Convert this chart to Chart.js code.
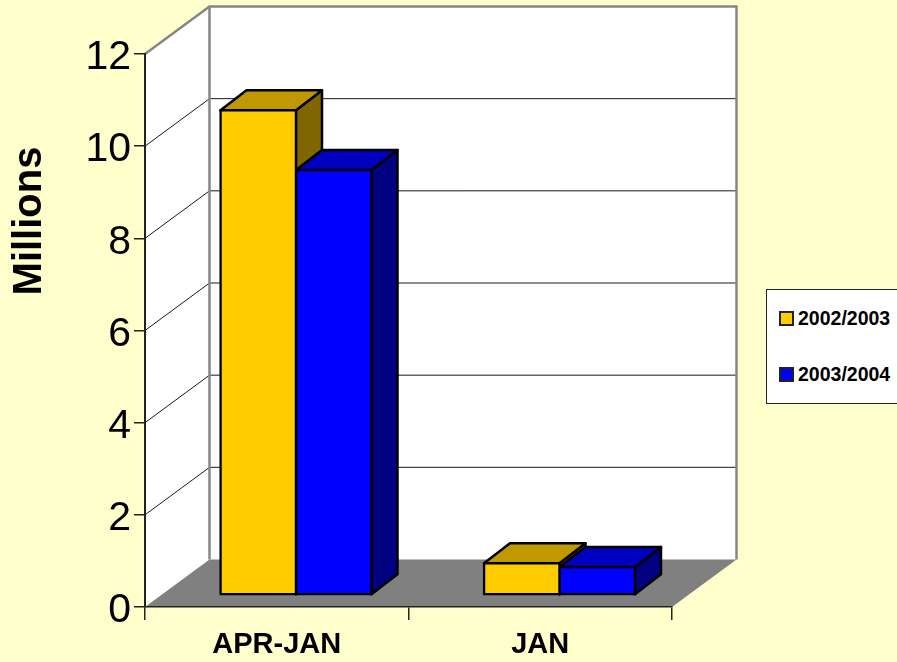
<!DOCTYPE html>
<html>
<head>
<meta charset="utf-8">
<title>Millions</title>
<script src="https://cdn.jsdelivr.net/npm/chart.js@4"></script>
<style>
  html, body { margin: 0; padding: 0; background: #ffffcc; overflow: hidden; }
  #wrap { position: relative; width: 897px; height: 662px; }
  #legend {
    position: absolute; left: 766px; top: 289px; width: 140px; height: 113px;
    background: #fff; border: 1px solid #222; box-sizing: content-box;
    font: bold 19.5px "Liberation Sans", Arial, sans-serif; color: #000;
  }
  #legend .row { position: absolute; left: 12px; display: flex; align-items: center; line-height: 20px; }
  #legend .swatch { width: 11px; height: 11px; border: 2px solid #222; margin-right: 4px; }
</style>
</head>
<body>
<div id="wrap">
  <canvas id="chart" width="897" height="662"></canvas>
  <div id="legend"></div>
</div>
<script>
const categories = ['APR-JAN', 'JAN'];
const seriesNames = ['2002/2003', '2003/2004'];
const values2002 = [10.52, 0.69];
const values2003 = [9.22, 0.61];
const yTicks = [0, 2, 4, 6, 8, 10, 12];

const COLORS = {
  page: '#ffffcc',
  wall: '#ffffff',
  edge: '#868686',
  floor: '#808080',
  axis: '#222222',
  grid: '#1a1a1a',
  bar: ['#ffcc00', '#0000ff'],
  top: ['#c09900', '#0000c0'],
  side: ['#806600', '#000080'],
};

// depth of the walls, depth of a bar, and where the bars sit on the floor
const WALL = { dx: 64.5, dy: -47.5 };
const BOX = { dx: 26, dy: -20 };
const BAR_SHIFT = { x: 19.25, y: -12 };
const BAR_LINE = 2.5;

function poly(ctx, pts, fill, stroke, width) {
  ctx.beginPath();
  pts.forEach((p, i) => (i ? ctx.lineTo(p[0], p[1]) : ctx.moveTo(p[0], p[1])));
  ctx.closePath();
  if (fill) { ctx.fillStyle = fill; ctx.fill(); }
  if (stroke) {
    ctx.strokeStyle = stroke;
    ctx.lineWidth = width;
    ctx.lineJoin = 'round';
    ctx.stroke();
  }
}

const box3d = {
  id: 'box3d',
  // walls and floor go under the axes
  beforeDraw(chart) {
    const { ctx, chartArea: a, scales: { y } } = chart;
    const backL = a.left + WALL.dx;
    const backR = a.right + WALL.dx;
    ctx.save();
    poly(ctx, [[a.left, a.top], [backL, a.top + WALL.dy], [backL, a.bottom + WALL.dy], [a.left, a.bottom]], COLORS.wall);
    poly(ctx, [[backL, a.top + WALL.dy], [backR, a.top + WALL.dy], [backR, a.bottom + WALL.dy], [backL, a.bottom + WALL.dy]], COLORS.wall);
    poly(ctx, [[a.left, a.bottom], [backL, a.bottom + WALL.dy], [backR, a.bottom + WALL.dy], [a.right, a.bottom]], COLORS.floor);

    yTicks.slice(1, -1).forEach(v => {
      const py = y.getPixelForValue(v);
      ctx.beginPath();
      ctx.moveTo(a.left, py);
      ctx.lineTo(backL, py + WALL.dy);
      ctx.lineTo(backR, py + WALL.dy);
      ctx.strokeStyle = COLORS.grid;
      ctx.lineWidth = 1;
      ctx.stroke();
    });

    ctx.beginPath();
    ctx.moveTo(a.left, a.top);
    ctx.lineTo(backL, a.top + WALL.dy);
    ctx.lineTo(backR, a.top + WALL.dy);
    ctx.lineTo(backR, a.bottom + WALL.dy);
    ctx.moveTo(backL, a.top + WALL.dy);
    ctx.lineTo(backL, a.bottom + WALL.dy);
    ctx.strokeStyle = COLORS.edge;
    ctx.lineWidth = 2.5;
    ctx.stroke();
    ctx.restore();
  },
  // sides and tops first, the library then paints the front faces on them
  beforeDatasetsDraw(chart) {
    const { ctx } = chart;
    ctx.save();
    ctx.translate(BAR_SHIFT.x, BAR_SHIFT.y);
    categories.forEach((_, i) => {
      seriesNames.forEach((_, d) => {
        const bar = chart.getDatasetMeta(d).data[i];
        const l = bar.x - bar.width / 2;
        const r = bar.x + bar.width / 2;
        const t = bar.y;
        const b = bar.base;
        poly(ctx, [[r, t], [r + BOX.dx, t + BOX.dy], [r + BOX.dx, b + BOX.dy], [r, b]], COLORS.side[d], '#000', BAR_LINE);
        poly(ctx, [[l, t], [l + BOX.dx, t + BOX.dy], [r + BOX.dx, t + BOX.dy], [r, t]], COLORS.top[d], '#000', BAR_LINE);
      });
    });
  },
  afterDatasetsDraw(chart) {
    chart.ctx.restore();
  },
  afterDraw(chart) {
    const { ctx } = chart;
    ctx.save();
    ctx.translate(30, 221);
    ctx.rotate(-Math.PI / 2);
    ctx.font = 'bold 40px "Liberation Sans", Arial, sans-serif';
    ctx.fillStyle = '#000';
    ctx.textAlign = 'center';
    ctx.textBaseline = 'middle';
    ctx.fillText('Millions', 0, 0);
    ctx.restore();
  },
};

new Chart(document.getElementById('chart'), {
  type: 'bar',
  data: {
    labels: categories,
    datasets: [
      { label: seriesNames[0], data: values2002, backgroundColor: COLORS.bar[0] },
      { label: seriesNames[1], data: values2003, backgroundColor: COLORS.bar[1] },
    ],
  },
  options: {
    responsive: false,
    animation: false,
    layout: { padding: { top: 54, right: 225, bottom: 0, left: 0 } },
    datasets: {
      bar: {
        barPercentage: 1,
        categoryPercentage: 0.573,
        clip: false,
        borderColor: '#000',
        borderWidth: BAR_LINE,
        borderSkipped: false,
        inflateAmount: BAR_LINE / 2,
      },
    },
    plugins: {
      legend: { display: false },
      tooltip: { enabled: false },
    },
    scales: {
      x: {
        afterFit(scale) { scale.height = 55; },
        border: { color: COLORS.axis, width: 1.5 },
        grid: { drawOnChartArea: false, tickLength: 13, color: COLORS.axis, lineWidth: 1.5 },
        ticks: {
          color: '#000',
          padding: 8,
          font: { family: '"Liberation Sans", Arial, sans-serif', size: 29, weight: 'bold' },
        },
      },
      y: {
        min: 0,
        max: 12,
        afterFit(scale) { scale.width = 145; },
        afterBuildTicks(scale) { scale.ticks = yTicks.map(value => ({ value })); },
        border: { color: COLORS.axis, width: 2 },
        grid: { drawOnChartArea: false, tickLength: 11, color: COLORS.axis, lineWidth: 1.5 },
        ticks: {
          color: '#000',
          padding: 3,
          labelOffset: 4,
          font: { family: '"Liberation Sans", Arial, sans-serif', size: 41 },
        },
      },
    },
  },
  plugins: [box3d],
});

const legend = document.getElementById('legend');
seriesNames.forEach((name, i) => {
  const row = document.createElement('div');
  row.className = 'row';
  row.style.top = (i === 0 ? 18 : 74) + 'px';
  const swatch = document.createElement('span');
  swatch.className = 'swatch';
  swatch.style.background = COLORS.bar[i];
  row.appendChild(swatch);
  row.appendChild(document.createTextNode(name));
  legend.appendChild(row);
});
</script>
</body>
</html>
